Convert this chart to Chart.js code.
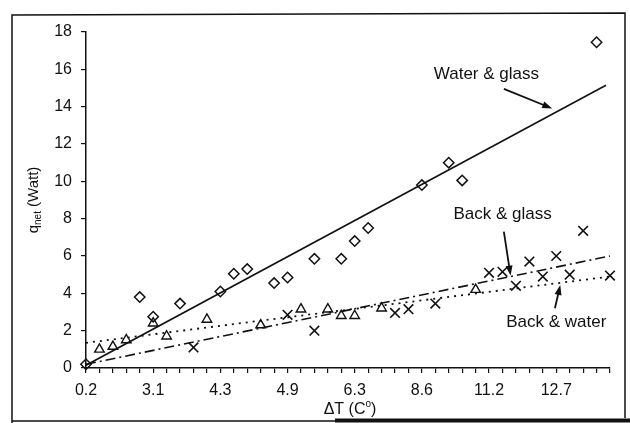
<!DOCTYPE html>
<html lang="en">
<head>
<meta charset="UTF-8">
<title>q_net vs dT</title>
<script src="https://cdn.jsdelivr.net/npm/chart.js"></script>
<style>
  html, body { margin: 0; padding: 0; background: #fff; }
</style>
</head>
<body>
<canvas id="chart" width="630" height="423"></canvas>
<script>
// category positions 0..39, a label every 5th tick
var nCats = 40;
var labelEvery = 5;
var tickLabels = ['0.2', '3.1', '4.3', '4.9', '6.3', '8.6', '11.2', '12.7'];

// Water & glass (diamonds)
var diamondIdx = [0, 4, 5, 7, 10, 11, 12, 14, 15, 17, 19, 20, 21, 25, 27, 28, 38];
var waterGlass = [0.2, 3.8, 2.75, 3.45, 4.1, 5.05, 5.3, 4.55, 4.85, 5.85, 5.85, 6.8, 7.5, 9.8, 11.0, 10.05, 17.45];

// triangles
var triangleIdx = [1, 2, 3, 5, 6, 9, 13, 16, 18, 19, 20, 22, 29];
var triangles = [1.0, 1.15, 1.5, 2.4, 1.7, 2.6, 2.3, 3.15, 3.15, 2.8, 2.8, 3.2, 4.2];

// crosses
var crossIdx = [8, 15, 17, 23, 24, 26, 30, 31, 32, 33, 34, 35, 36, 37, 39];
var crosses = [1.1, 2.85, 2.0, 2.95, 3.15, 3.45, 5.1, 5.15, 4.4, 5.7, 4.9, 6.0, 5.0, 7.35, 4.95];

// trend lines (start/end)
var fitX = [0, 38.7];
var fitWaterGlass = [0.15, 15.15];
var fitX2 = [0, 39];
var fitBackGlass = [0.2, 6.0];
var fitBackWater = [1.35, 4.9];

// text + arrow notes, in data units [idx, value]
var notes = [
  { text: 'Water & glass', at: [29.8, 15.75], from: [31.1, 14.95], to: [34.7, 13.9] },
  { text: 'Back & glass', at: [31.0, 8.26], from: [31.1, 7.3], to: [31.6, 4.95] },
  { text: 'Back & water', at: [35.0, 2.47], from: [34.9, 3.2], to: [35.3, 4.45] }
];

var ink = '#111';
var fam = '"Liberation Sans", Arial, sans-serif';

function pts(xs, ys) {
  return xs.map(function (x, i) { return { x: x, y: ys[i] }; });
}

function arrow(ctx, x1, y1, x2, y2) {
  var a = Math.atan2(y2 - y1, x2 - x1), L = 10, W = 3.5;
  ctx.lineWidth = 1.8;
  ctx.beginPath();
  ctx.moveTo(x1, y1);
  ctx.lineTo(x2 - Math.cos(a) * L * 0.8, y2 - Math.sin(a) * L * 0.8);
  ctx.stroke();
  ctx.beginPath();
  ctx.moveTo(x2, y2);
  ctx.lineTo(x2 - L * Math.cos(a) + W * Math.sin(a), y2 - L * Math.sin(a) - W * Math.cos(a));
  ctx.lineTo(x2 - L * Math.cos(a) - W * Math.sin(a), y2 - L * Math.sin(a) + W * Math.cos(a));
  ctx.closePath();
  ctx.fill();
}

var extras = {
  id: 'extras',
  afterDraw: function (chart) {
    var ctx = chart.ctx, xs = chart.scales.x, ys = chart.scales.y, ca = chart.chartArea;
    ctx.save();
    ctx.fillStyle = ink;
    ctx.strokeStyle = ink;

    // notes
    ctx.font = '17px ' + fam;
    ctx.textAlign = 'center';
    ctx.textBaseline = 'middle';
    notes.forEach(function (n) {
      ctx.fillText(n.text, xs.getPixelForValue(n.at[0]), ys.getPixelForValue(n.at[1]));
      arrow(ctx, xs.getPixelForValue(n.from[0]), ys.getPixelForValue(n.from[1]),
                 xs.getPixelForValue(n.to[0]), ys.getPixelForValue(n.to[1]));
    });

    // y title: q_net (Watt)
    ctx.save();
    ctx.translate(33, (ca.top + ca.bottom) / 2);
    ctx.rotate(-Math.PI / 2);
    ctx.textAlign = 'left';
    ctx.textBaseline = 'alphabetic';
    var big = '15px ' + fam, small = '10px ' + fam;
    ctx.font = big; var w1 = ctx.measureText('q').width, w3 = ctx.measureText(' (Watt)').width;
    ctx.font = small; var w2 = ctx.measureText('net').width;
    var sx = -(w1 + w2 + w3) / 2;
    ctx.font = big; ctx.fillText('q', sx, 5);
    ctx.font = small; ctx.fillText('net', sx + w1, 8);
    ctx.font = big; ctx.fillText(' (Watt)', sx + w1 + w2, 5);
    ctx.restore();

    // x title: ΔT (C°)
    ctx.textAlign = 'left';
    ctx.textBaseline = 'alphabetic';
    var xb = '16px ' + fam, xsm = '10px ' + fam;
    ctx.font = xb; var a1 = ctx.measureText('\u0394T (C').width, a3 = ctx.measureText(')').width;
    ctx.font = xsm; var a2 = ctx.measureText('o').width;
    var cx = (ca.left + ca.right) / 2 + 2 - (a1 + a2 + a3) / 2, by = 414;
    ctx.font = xb; ctx.fillText('\u0394T (C', cx, by);
    ctx.font = xsm; ctx.fillText('o', cx + a1, by - 7);
    ctx.font = xb; ctx.fillText(')', cx + a1 + a2, by);

    // figure frame
    ctx.lineWidth = 1.5;
    ctx.beginPath();
    ctx.moveTo(12, 423); ctx.lineTo(12, 15); ctx.lineTo(625, 13); ctx.lineTo(625, 418);
    ctx.moveTo(12, 421); ctx.lineTo(335, 421);
    ctx.stroke();
    ctx.lineWidth = 4;
    ctx.beginPath();
    ctx.moveTo(335, 420.5); ctx.lineTo(630, 420.5);
    ctx.stroke();
    ctx.restore();
  }
};

var tickFont = { family: fam, size: 16 };

new Chart(document.getElementById('chart'), {
  type: 'scatter',
  data: {
    datasets: [
      { label: 'Water & glass fit', data: pts(fitX, fitWaterGlass), showLine: true, pointRadius: 0,
        borderColor: ink, borderWidth: 1.6 },
      { label: 'Back & glass fit', data: pts(fitX2, fitBackGlass), showLine: true, pointRadius: 0,
        borderColor: ink, borderWidth: 1.6, borderDash: [10, 4, 2, 4] },
      { label: 'Back & water fit', data: pts(fitX2, fitBackWater), showLine: true, pointRadius: 0,
        borderColor: ink, borderWidth: 1.8, borderDash: [2, 5] },
      { label: 'Water & glass', data: pts(diamondIdx, waterGlass), pointStyle: 'rectRot', pointRadius: 5.2,
        borderColor: ink, backgroundColor: 'rgba(255,255,255,0)', pointBorderWidth: 1.5, clip: false },
      { label: 'triangles', data: pts(triangleIdx, triangles), pointStyle: 'triangle', pointRadius: 5.5,
        borderColor: ink, backgroundColor: 'rgba(255,255,255,0)', pointBorderWidth: 1.4, clip: false },
      { label: 'crosses', data: pts(crossIdx, crosses), pointStyle: 'crossRot', pointRadius: 6.8,
        borderColor: ink, pointBorderWidth: 1.6, clip: false }
    ]
  },
  options: {
    responsive: false,
    animation: false,
    devicePixelRatio: 1,
    layout: { padding: { top: 32, right: 20, left: 0, bottom: 0 } },
    plugins: { legend: { display: false }, tooltip: { enabled: false } },
    scales: {
      x: {
        type: 'linear', min: 0, max: nCats - 1,
        afterFit: function (s) { s.height = 55; },
        afterBuildTicks: function (s) {
          var t = [];
          for (var i = 0; i < nCats; i++) t.push({ value: i });
          s.ticks = t;
        },
        ticks: {
          autoSkip: false, maxRotation: 0, padding: 8, font: tickFont, color: ink,
          callback: function (v) { return v % labelEvery === 0 ? tickLabels[v / labelEvery] : ''; }
        },
        grid: { drawOnChartArea: false, tickLength: 5, color: ink, lineWidth: 1.2 },
        border: { color: ink, width: 1.5 }
      },
      y: {
        min: 0, max: 18,
        afterFit: function (s) { s.width = 86; },
        ticks: { stepSize: 2, padding: 9, font: tickFont, color: ink },
        grid: { drawOnChartArea: false, tickLength: 5, color: ink, lineWidth: 1.2 },
        border: { color: ink, width: 1.5 }
      }
    }
  },
  plugins: [extras]
});
</script>
</body>
</html>
